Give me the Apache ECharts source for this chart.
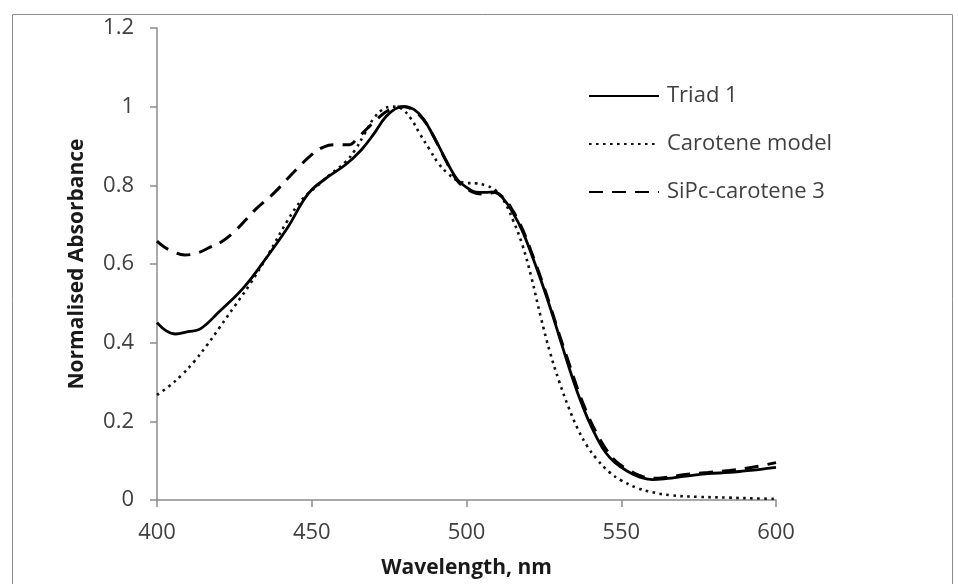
<!DOCTYPE html>
<html>
<head>
<meta charset="utf-8">
<script src="https://cdn.jsdelivr.net/npm/echarts@6/dist/echarts.min.js"></script>
<style>html,body{margin:0;padding:0;background:#fff}#c{width:958px;height:584px}</style>
</head>
<body>
<div id="c"></div>
<script>
const seriesNames = ['Triad 1', 'Carotene model', 'SiPc-carotene 3'];
const xTicks = [400, 450, 500, 550, 600];
const yTicks = [0, 0.2, 0.4, 0.6, 0.8, 1, 1.2];

const triadX = [400,403,406,410,414,420,428,435,442,449,455,461,466,470,474,478,480,483,486,489,493,497,500,503,506,509,512,515,518,521,524,527,530,533,536,539,542,545,548,552,556,560,565,570,578,585,590,595,600];
const triadY = [0.451,0.43,0.422,0.428,0.435,0.478,0.54,0.612,0.69,0.78,0.82,0.853,0.89,0.93,0.975,0.998,1.0,0.993,0.97,0.93,0.87,0.815,0.795,0.783,0.782,0.783,0.765,0.73,0.685,0.625,0.56,0.49,0.415,0.34,0.27,0.21,0.16,0.12,0.095,0.073,0.058,0.052,0.055,0.06,0.067,0.07,0.074,0.078,0.083];

const caroteneX = [400,404,408,412,416,420,425,430,436,442,447,452,456,461,464,467,470,473,476,479,482,485,488,491,494,497,500,503,506,509,512,515,518,521,524,527,530,533,536,539,542,546,550,555,560,566,575,585,593,600];
const caroteneY = [0.267,0.29,0.318,0.352,0.392,0.436,0.492,0.548,0.625,0.708,0.765,0.8,0.828,0.86,0.89,0.93,0.97,0.993,1.0,0.995,0.97,0.93,0.892,0.855,0.83,0.812,0.806,0.805,0.8,0.79,0.762,0.712,0.65,0.565,0.465,0.375,0.3,0.235,0.18,0.137,0.105,0.072,0.05,0.031,0.02,0.012,0.008,0.006,0.004,0.003];

const sipcX = [400,402,405,409,413,417,421,426,432,438,444,450,454,458,462,465,468,471,474,477,480,483,486,489,493,497,500,503,506,509,512,515,518,521,524,527,530,533,536,539,542,545,548,552,556,560,565,570,578,585,590,595,600];
const sipcY = [0.658,0.645,0.632,0.623,0.628,0.642,0.657,0.69,0.74,0.782,0.832,0.878,0.898,0.903,0.903,0.922,0.945,0.968,0.987,0.998,1.0,0.99,0.968,0.93,0.868,0.812,0.792,0.78,0.778,0.782,0.768,0.735,0.69,0.63,0.565,0.495,0.42,0.35,0.28,0.22,0.17,0.13,0.1,0.078,0.062,0.055,0.058,0.064,0.07,0.075,0.08,0.087,0.095];

function pairs(xs, ys) { return xs.map((x, i) => [x, ys[i]]); }

const chart = echarts.init(document.getElementById('c'), null, {renderer: 'canvas'});
const axisCol = '#8c8c8c';
const labelFont = {fontFamily: 'Open Sans', fontSize: 22, color: '#404040'};
const titleFont = {fontFamily: 'Open Sans', fontSize: 21, fontWeight: 'bold', color: '#1a1a1a'};

chart.setOption({
  animation: false,
  backgroundColor: '#fff',
  graphic: [{
    type: 'rect', left: 10, top: 12, shape: {width: 940, height: 590},
    style: {fill: 'none', stroke: '#8c8c8c', lineWidth: 1}, silent: true, z: -10
  }],
  grid: {left: 157, right: 182, top: 28, bottom: 80},
  legend: {
    orient: 'vertical', left: 588, top: 84, padding: 0, itemWidth: 70, itemHeight: 24, itemGap: 24,
    itemStyle: {opacity: 0, borderWidth: 0},
    textStyle: {fontFamily: 'Open Sans', fontSize: 22, lineHeight: 24, color: '#404040', padding: [0,0,0,3]},
    data: seriesNames
  },
  xAxis: {
    type: 'value', min: 400, max: 600, interval: 50,
    name: 'Wavelength, nm', nameLocation: 'middle', nameGap: 58, nameTextStyle: titleFont,
    axisLine: {show: true, lineStyle: {color: axisCol, width: 1.5}},
    axisTick: {show: true, inside: false, length: 7, lineStyle: {color: axisCol, width: 1.5}},
    axisLabel: Object.assign({margin: 22, formatter: v => xTicks.includes(v) ? String(v) : ''}, labelFont),
    splitLine: {show: false}
  },
  yAxis: {
    type: 'value', min: 0, max: 1.2, interval: 0.2,
    name: 'Normalised Absorbance', nameLocation: 'middle', nameGap: 69, nameTextStyle: titleFont,
    axisLine: {show: true, lineStyle: {color: axisCol, width: 1.5}},
    axisTick: {show: true, inside: false, length: 7, lineStyle: {color: axisCol, width: 1.5}},
    axisLabel: Object.assign({margin: 23, formatter: v => {
      const t = yTicks.find(y => Math.abs(y - v) < 1e-9);
      return t === undefined ? '' : String(t);
    }}, labelFont),
    splitLine: {show: false}
  },
  series: [
    {name: seriesNames[0], type: 'line', data: pairs(triadX, triadY), smooth: 0.4, symbol: 'none',
     lineStyle: {color: '#000', width: 2.8, type: 'solid'}, itemStyle: {color: '#000'}, z: 3},
    {name: seriesNames[1], type: 'line', data: pairs(caroteneX, caroteneY), smooth: 0.4, symbol: 'none',
     lineStyle: {color: '#111', width: 2.6, type: [2.6, 4.4]}, itemStyle: {color: '#111'}, z: 2},
    {name: seriesNames[2], type: 'line', data: pairs(sipcX, sipcY), smooth: 0.4, symbol: 'none',
     lineStyle: {color: '#000', width: 3, type: [14, 9]}, itemStyle: {color: '#000'}, z: 2}
  ]
});
</script>
</body>
</html>
